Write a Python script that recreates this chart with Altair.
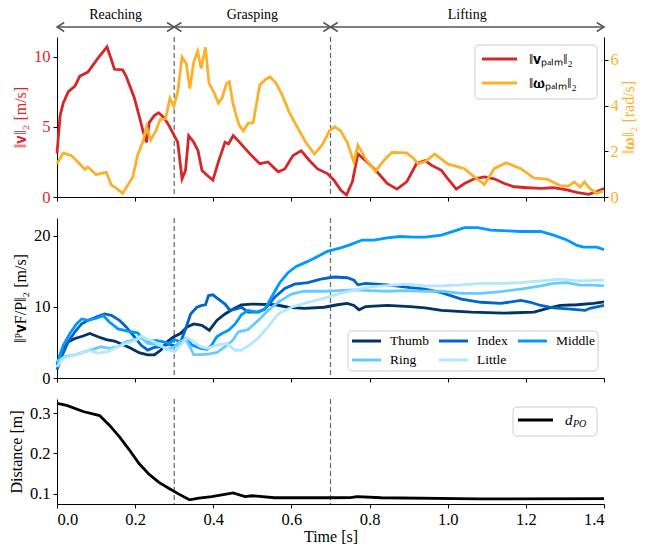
import altair as alt
import pandas as pd

FONT = "Liberation Serif"
RED = "#d62728"
ORANGE = "#fbb12b"

# ---------------- data ----------------
phase_start = [0.0, 0.3, 0.7]
phase_end = [0.3, 0.7, 1.4]
phase_label = ["Reaching", "Grasping", "Lifting"]
boundaries = [0.3, 0.7]
x_ticks = [0.0, 0.2, 0.4, 0.6, 0.8, 1.0, 1.2, 1.4]

v_t = [0, 0.008, 0.016, 0.029, 0.046, 0.058, 0.079, 0.092, 0.105, 0.128, 0.139, 0.147, 0.168, 0.177,
       0.198, 0.21, 0.221, 0.229, 0.236, 0.249, 0.26, 0.274, 0.287, 0.30, 0.309, 0.32, 0.329, 0.337,
       0.35, 0.361, 0.371, 0.384, 0.399, 0.413, 0.43, 0.439, 0.451, 0.464, 0.494, 0.519, 0.54, 0.566,
       0.583, 0.604, 0.625, 0.646, 0.667, 0.692, 0.709, 0.726, 0.741, 0.756, 0.77, 0.794, 0.819, 0.845,
       0.87, 0.895, 0.92, 0.942, 0.959, 0.984, 1.0, 1.022, 1.043, 1.068, 1.094, 1.119, 1.145, 1.17,
       1.204, 1.238, 1.27, 1.305, 1.33, 1.36, 1.381, 1.4]
v_val = [3.1, 5.8, 6.7, 7.5, 7.9, 8.6, 8.9, 9.4, 9.9, 10.7, 9.8, 9.1, 9.06, 8.6,
         7.06, 5.8, 4.6, 3.9, 5.3, 5.8, 6.0, 5.65, 5.07, 4.37, 3.9, 1.3, 1.9, 4.37,
         3.9, 3.3, 1.9, 1.55, 1.2, 2.5, 3.9, 3.78, 4.37, 4.0, 3.07, 2.37, 2.5, 1.8,
         2.0, 2.96, 3.3, 2.6, 2.0, 1.67, 1.2, 0.5, 0.14, 1.08, 3.07, 2.5, 1.8, 0.96,
         0.56, 1.08, 2.37, 2.6, 2.25, 1.9, 1.3, 0.56, 0.96, 1.3, 1.43, 1.3, 0.96, 0.73,
         0.66, 0.61, 0.66, 0.5, 0.33, 0.19, 0.37, 0.61]

w_t = [0, 0.016, 0.037, 0.054, 0.071, 0.079, 0.1, 0.126, 0.139, 0.151, 0.168, 0.181, 0.194, 0.206,
       0.219, 0.229, 0.24, 0.253, 0.264, 0.278, 0.289, 0.299, 0.309, 0.32, 0.331, 0.34, 0.35, 0.36,
       0.369, 0.38, 0.389, 0.401, 0.413, 0.422, 0.434, 0.441, 0.451, 0.458, 0.466, 0.477, 0.489, 0.502,
       0.519, 0.532, 0.545, 0.561, 0.578, 0.595, 0.616, 0.637, 0.659, 0.68, 0.697, 0.711, 0.726, 0.743,
       0.76, 0.77, 0.79, 0.815, 0.836, 0.857, 0.895, 0.912, 0.925, 0.942, 0.967, 1.0, 1.043, 1.068,
       1.094, 1.119, 1.149, 1.187, 1.221, 1.255, 1.288, 1.31, 1.324, 1.339, 1.35, 1.364, 1.381, 1.398]
w_val = [1.45, 1.93, 1.81, 1.52, 1.21, 1.31, 0.98, 1.09, 0.52, 0.4, 0.16, 0.52, 0.88, 1.81,
         2.38, 3.07, 2.5, 2.89, 3.39, 3.42, 4.32, 3.97, 4.61, 6.12, 5.83, 4.75, 5.9, 6.38,
         5.62, 6.55, 4.97, 4.61, 4.11, 4.32, 4.97, 5.04, 4.04, 3.6, 3.15, 2.89, 3.22, 3.25,
         4.9, 5.12, 5.26, 4.97, 4.4, 3.68, 3.03, 2.38, 1.88, 2.31, 2.89, 3.07, 2.89, 2.38,
         1.52, 2.27, 1.67, 1.12, 1.59, 1.95, 1.93, 1.69, 1.45, 1.55, 1.88, 1.45, 1.24, 0.88,
         0.55, 1.24, 1.5, 1.24, 0.83, 0.78, 0.49, 0.49, 0.66, 0.44, 0.66, 0.37, 0.16, 0.26]

thumb_t = [0, 0.012, 0.029, 0.046, 0.067, 0.084, 0.105, 0.126, 0.147, 0.168, 0.189, 0.21, 0.232, 0.249,
           0.266, 0.282, 0.299, 0.316, 0.333, 0.35, 0.371, 0.39, 0.409, 0.43, 0.451, 0.472, 0.498, 0.56,
           0.591, 0.633, 0.684, 0.718, 0.743, 0.76, 0.773, 0.79, 0.845, 0.904, 0.942, 0.984, 1.06, 1.145,
           1.221, 1.255, 1.288, 1.331, 1.373, 1.4]
thumb_val = [1.85, 3.9, 5.1, 5.55, 5.9, 6.25, 5.8, 5.4, 5.2, 4.7, 4.17, 3.56, 3.24, 3.24,
             3.93, 5.1, 5.8, 6.25, 7.18, 7.6, 7.4, 6.7, 8.1, 9.0, 9.7, 10.3, 10.4, 10.3,
             9.95, 9.8, 9.95, 10.3, 10.5, 10.2, 9.6, 10.05, 10.2, 10.05, 9.86, 9.5, 9.26, 9.12,
             9.26, 9.8, 10.2, 10.3, 10.5, 10.7]

index_t = [0, 0.012, 0.029, 0.046, 0.063, 0.079, 0.1, 0.122, 0.139, 0.16, 0.177, 0.198, 0.215, 0.232,
           0.249, 0.266, 0.287, 0.301, 0.315, 0.329, 0.342, 0.358, 0.371, 0.38, 0.388, 0.399, 0.413, 0.43,
           0.443, 0.46, 0.472, 0.489, 0.515, 0.532, 0.557, 0.583, 0.608, 0.642, 0.675, 0.709, 0.743, 0.76,
           0.77, 0.79, 0.845, 0.904, 0.942, 0.984, 1.035, 1.085, 1.136, 1.187, 1.212, 1.238, 1.271, 1.314,
           1.352, 1.364, 1.4]
index_val = [1.16, 3.0, 5.1, 6.5, 7.6, 8.1, 8.56, 9.0, 8.8, 8.1, 7.18, 5.8, 4.63, 3.93,
             4.3, 4.4, 4.77, 4.5, 4.86, 6.9, 9.0, 9.95, 10.2, 10.3, 11.6, 11.7, 11.1, 10.4,
             9.5, 9.7, 9.96, 9.26, 9.26, 9.7, 11.35, 12.6, 13.2, 13.4, 13.9, 14.2, 14.1, 13.75,
             13.1, 13.3, 13.1, 12.7, 12.5, 12.0, 11.1, 10.65, 10.5, 10.9, 10.65, 10.2, 9.86, 9.7,
             9.5, 9.8, 10.2]

middle_t = [0, 0.016, 0.033, 0.05, 0.063, 0.079, 0.105, 0.118, 0.134, 0.156, 0.181, 0.206, 0.219, 0.236,
            0.253, 0.27, 0.287, 0.301, 0.315, 0.329, 0.346, 0.367, 0.384, 0.396, 0.409, 0.422, 0.439, 0.456,
            0.472, 0.489, 0.511, 0.532, 0.549, 0.57, 0.591, 0.612, 0.642, 0.667, 0.692, 0.726, 0.751, 0.781,
            0.811, 0.845, 0.878, 0.912, 0.942, 0.984, 1.018, 1.043, 1.077, 1.11, 1.153, 1.187, 1.238, 1.271,
            1.305, 1.331, 1.347, 1.381, 1.4]
middle_val = [1.85, 4.6, 6.25, 7.6, 8.3, 8.1, 8.47, 8.8, 7.87, 6.9, 6.6, 6.35, 5.55, 5.1,
              5.3, 5.1, 4.86, 5.4, 5.1, 5.55, 4.63, 4.17, 4.03, 4.63, 5.8, 6.25, 6.7, 7.6,
              8.9, 9.5, 9.26, 9.7, 11.35, 13.4, 14.8, 15.7, 16.4, 17.1, 17.8, 18.3, 18.75, 19.4,
              19.4, 19.7, 19.9, 19.8, 19.8, 20.1, 20.7, 21.15, 21.15, 20.8, 20.7, 20.6, 20.6, 20.1,
              19.4, 18.65, 18.4, 18.4, 18.05]

ring_t = [0, 0.02, 0.046, 0.071, 0.092, 0.113, 0.134, 0.156, 0.177, 0.198, 0.216, 0.232, 0.249, 0.266,
          0.282, 0.301, 0.316, 0.329, 0.34, 0.35, 0.37, 0.39, 0.41, 0.43, 0.45, 0.464, 0.489, 0.515,
          0.54, 0.566, 0.6, 0.633, 0.684, 0.718, 0.76, 0.8, 0.845, 0.887, 0.942, 0.984, 1.035, 1.085,
          1.136, 1.187, 1.238, 1.271, 1.305, 1.339, 1.373, 1.4]
ring_val = [2.3, 3.0, 3.24, 3.7, 4.03, 4.4, 4.17, 4.4, 5.1, 5.4, 5.7, 4.86, 4.72, 4.5,
            4.03, 4.4, 5.1, 5.5, 4.4, 3.3, 3.3, 3.4, 3.6, 4.4, 5.3, 6.5, 6.8, 8.1,
            9.5, 10.65, 11.8, 12.2, 12.2, 12.3, 12.4, 12.3, 12.2, 12.3, 12.2, 12.2, 11.9, 11.9,
            12.15, 12.5, 12.96, 13.3, 13.4, 13.05, 13.05, 12.96]

little_t = [0, 0.016, 0.037, 0.063, 0.084, 0.105, 0.13, 0.156, 0.177, 0.202, 0.215, 0.232, 0.249, 0.266,
            0.287, 0.301, 0.316, 0.333, 0.35, 0.367, 0.384, 0.409, 0.434, 0.456, 0.472, 0.489, 0.515, 0.54,
            0.566, 0.6, 0.633, 0.675, 0.718, 0.76, 0.802, 0.845, 0.895, 0.942, 0.984, 1.035, 1.085, 1.136,
            1.187, 1.238, 1.288, 1.339, 1.4]
little_val = [1.6, 2.8, 3.1, 3.5, 3.85, 3.5, 3.7, 4.4, 4.86, 5.3, 5.9, 5.4, 5.1, 4.5,
              3.93, 3.7, 4.63, 5.7, 5.1, 4.4, 4.17, 4.63, 4.86, 3.9, 3.9, 4.5, 5.6, 7.2,
              9.0, 9.95, 10.5, 11.1, 11.8, 12.35, 12.8, 13.0, 13.2, 12.96, 12.96, 13.1, 13.3, 13.3,
              13.4, 13.65, 13.9, 13.65, 13.75]

d_t = [0, 0.025, 0.067, 0.109, 0.134, 0.16, 0.185, 0.21, 0.236, 0.261, 0.287, 0.312, 0.339, 0.363,
       0.396, 0.422, 0.451, 0.481, 0.5, 0.557, 0.70, 0.751, 0.768, 0.83, 1.08, 1.4]
d_val = [0.324, 0.319, 0.304, 0.294, 0.27, 0.241, 0.209, 0.175, 0.148, 0.128, 0.113, 0.099, 0.085, 0.089,
         0.093, 0.097, 0.102, 0.093, 0.095, 0.09, 0.09, 0.0905, 0.093, 0.09, 0.087, 0.088]

finger_names = ["Thumb", "Index", "Middle", "Ring", "Little"]
finger_colors = ["#003366", "#0066cc", "#0099ff", "#66ccff", "#b3e6ff"]

V_LABEL = "‖𝐯ₚₐₗₘ‖₂"
W_LABEL = "‖𝛚ₚₐₗₘ‖₂"
D_MAIN, D_SUB = "d", "PO"

# ---------------- frames ----------------
phases = pd.DataFrame({"start": phase_start, "end": phase_end, "label": phase_label})
phases["mid"] = (phases["start"] + phases["end"]) / 2
bnd = pd.DataFrame({"t": boundaries})
df_v = pd.DataFrame({"t": v_t, "val": v_val})
df_w = pd.DataFrame({"t": w_t, "val": w_val})
fingers = pd.concat([
    pd.DataFrame({"t": t, "val": v, "finger": n, "order": i})
    for i, (n, t, v) in enumerate(zip(finger_names,
                                      [thumb_t, index_t, middle_t, ring_t, little_t],
                                      [thumb_val, index_val, middle_val, ring_val, little_val]))
])
df_d = pd.DataFrame({"t": d_t, "val": d_val})
ONE = pd.DataFrame({"k": [0]})

W = 547
H_TOP, H_MID, H_BOT = 160, 160, 105
LW = 2.8

x_scale = alt.Scale(domain=[0, 1.4], nice=False, zero=False)
ax_nolab = alt.Axis(values=x_ticks, labels=False, title=None, grid=False)
ax_lab = alt.Axis(values=x_ticks, format=".1f", title="Time [s]", grid=False, titlePadding=1)


def xenc(field, axis):
    return alt.X(field, type="quantitative", scale=x_scale, axis=axis)


def dashed(axis):
    return alt.Chart(bnd).mark_rule(color="#666666", strokeWidth=1.2, strokeDash=[5, 3]).encode(
        x=xenc("t", axis))


def legend_box(x1, y1, x2, y2):
    return alt.Chart(ONE).mark_rect(fill="white", fillOpacity=0.85, stroke="#cccccc", strokeWidth=1,
                                    cornerRadius=4).encode(
        x=alt.value(x1), x2=alt.value(x2), y=alt.value(y1), y2=alt.value(y2))


def legend_entry(x1, length, y, color, label, gap=9, size=13, style="normal"):
    sw = alt.Chart(ONE).mark_rule(color=color, strokeWidth=3).encode(
        x=alt.value(x1), x2=alt.value(x1 + length), y=alt.value(y))
    tx = alt.Chart(ONE).mark_text(align="left", baseline="middle", font=FONT, fontSize=size,
                                  fontStyle=style, color="black").encode(
        x=alt.value(x1 + length + gap), y=alt.value(y), text=alt.value(label))
    return [sw, tx]


# ---------------- top panel ----------------
hdr_rule = alt.Chart(phases).mark_rule(color="#555555", strokeWidth=1.5).encode(
    x=xenc("start", ax_nolab), x2="end", y=alt.value(-10))
hdr_left = alt.Chart(phases).mark_point(shape="M 1.6 -1 L 0 0 L 1.6 1", filled=False, size=81,
                                        color="#555555", strokeWidth=1.5, opacity=1).encode(
    x=xenc("start", ax_nolab), y=alt.value(-10))
hdr_right = alt.Chart(phases).mark_point(shape="M -1.6 -1 L 0 0 L -1.6 1", filled=False, size=81,
                                         color="#555555", strokeWidth=1.5, opacity=1).encode(
    x=xenc("end", ax_nolab), y=alt.value(-10))
hdr_text = alt.Chart(phases).mark_text(font=FONT, fontSize=14, color="black", baseline="middle").encode(
    x=xenc("mid", ax_nolab), y=alt.value(-22), text="label:N")

line_v = alt.Chart(df_v).mark_line(strokeWidth=LW, color=RED).encode(
    x=xenc("t", ax_nolab),
    y=alt.Y("val:Q", scale=alt.Scale(domain=[0, 11.4], nice=False),
            axis=alt.Axis(orient="left", values=[0, 5, 10], title="‖𝐯‖₂ [m/s]", grid=False,
                          labelColor=RED, titleColor=RED)))
line_w = alt.Chart(df_w).mark_line(strokeWidth=LW, color=ORANGE).encode(
    x=xenc("t", ax_nolab),
    y=alt.Y("val:Q", scale=alt.Scale(domain=[0, 7.0], nice=False),
            axis=alt.Axis(orient="right", values=[0, 2, 4, 6], title="‖𝛚‖₂ [rad/s]", grid=False,
                          labelColor=ORANGE, titleColor=ORANGE, titlePadding=2, labelPadding=2,
                          titleAngle=270, titleBaseline="top")))

top_legend = [legend_box(W - 129, 8, W - 7, 62)]
for i, (lab, col) in enumerate(zip([V_LABEL, W_LABEL], [RED, ORANGE])):
    top_legend += legend_entry(W - 122, 35, 22 + 24 * i, col, lab, gap=12, size=15)

top = alt.layer(dashed(ax_nolab), line_v, line_w, hdr_rule, hdr_left, hdr_right, hdr_text,
                *top_legend).resolve_scale(y="independent").properties(width=W, height=H_TOP)

# ---------------- middle panel ----------------
mid_lines = alt.Chart(fingers).mark_line(strokeWidth=LW).encode(
    x=xenc("t", ax_nolab),
    y=alt.Y("val:Q", scale=alt.Scale(domain=[0, 22.5], nice=False),
            axis=alt.Axis(values=[0, 10, 20], title="‖ᴾ𝐯F/P‖₂ [m/s]", grid=False)),
    color=alt.Color("finger:N", scale=alt.Scale(domain=finger_names, range=finger_colors), legend=None),
    detail="finger:N",
    order="order:Q")

col_x = [W - 252, W - 165, W - 86]
mid_y0 = H_MID - 37
mid_legend = [legend_box(W - 256, H_MID - 47, W - 6, H_MID - 7)]
for i, (lab, col) in enumerate(zip(finger_names, finger_colors)):
    mid_legend += legend_entry(col_x[i % 3], 29, mid_y0 + 19 * (i // 3), col, lab, gap=9, size=13.5)

middle = alt.layer(dashed(ax_nolab), mid_lines, *mid_legend).properties(width=W, height=H_MID)

# ---------------- bottom panel ----------------
d_line = alt.Chart(df_d).mark_line(strokeWidth=LW, color="black").encode(
    x=xenc("t", ax_lab),
    y=alt.Y("val:Q", scale=alt.Scale(domain=[0.0745, 0.335], nice=False, zero=False),
            axis=alt.Axis(values=[0.1, 0.2, 0.3], format=".1f", title="Distance [m]", grid=False)))
bot_legend = [legend_box(W - 91, 8, W - 7, 37)]
bot_legend += legend_entry(W - 86, 35, 21, "black", D_MAIN, gap=12, size=15, style="italic")
bot_legend.append(alt.Chart(ONE).mark_text(align="left", baseline="middle", font=FONT, fontSize=10,
                                           fontStyle="italic", color="black").encode(
    x=alt.value(W - 31), y=alt.value(25), text=alt.value(D_SUB)))

bottom = alt.layer(dashed(ax_lab), d_line, *bot_legend).properties(width=W, height=H_BOT)

chart = alt.vconcat(top, middle, bottom, spacing=21, bounds="flush").properties(
    padding={"left": 0, "right": 0, "top": 0, "bottom": 0}
).configure_view(stroke=None).configure_axis(
    labelFont=FONT, titleFont=FONT, labelFontSize=16.5, titleFontSize=16, titleFontWeight="normal",
    labelColor="black", titleColor="black", domainColor="black", tickColor="black",
    domainWidth=1, tickWidth=1, tickSize=4, labelPadding=3, titlePadding=5
)

chart.save("out.html", embed_options={"renderer": "svg", "actions": False})
